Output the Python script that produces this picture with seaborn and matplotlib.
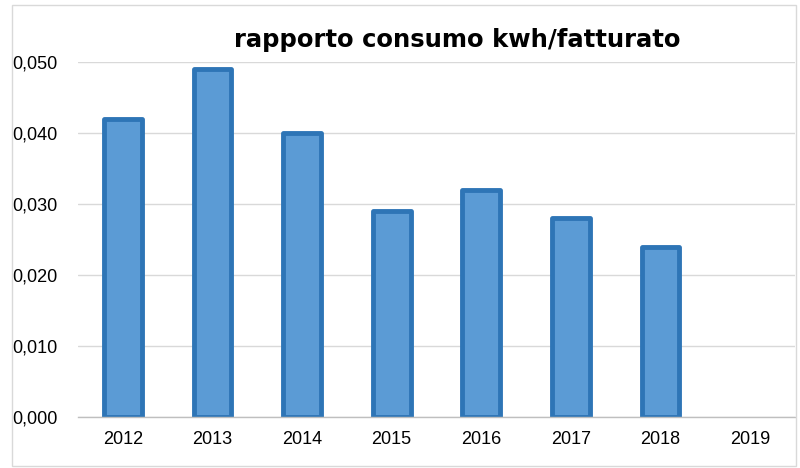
import matplotlib
matplotlib.use("Agg")
import matplotlib.pyplot as plt
import seaborn as sns
import numpy as np
import pandas as pd
from matplotlib.patches import Rectangle
from matplotlib.ticker import FuncFormatter

years = ["2012", "2013", "2014", "2015", "2016", "2017", "2018", "2019"]
values = [0.042, 0.049, 0.040, 0.029, 0.032, 0.028, 0.024, np.nan]
title = "rapporto consumo kwh/fatturato"
yticks = [0.0, 0.01, 0.02, 0.03, 0.04, 0.05]

sns.set_style("white")
plt.rcParams["font.family"] = ["Liberation Sans", "DejaVu Sans"]

df = pd.DataFrame({"anno": years, "valore": values})

fig = plt.figure(figsize=(8, 4.68), dpi=100)
ax = fig.add_axes([78 / 800, 51 / 468, 717 / 800, 355 / 468])

sns.barplot(data=df, x="anno", y="valore", order=years, color="#5B9BD5",
            saturation=1, edgecolor="#2E75B6", linewidth=3.5, width=0.42, ax=ax)
for p in ax.patches:
    p.set_joinstyle("round")

ax.set_xlim(-0.5, len(years) - 0.5)
ax.set_ylim(0, 0.05)
ax.set_yticks(yticks)
ax.yaxis.set_major_formatter(FuncFormatter(lambda v, _: f"{v:.3f}".replace(".", ",")))
ax.grid(axis="y", color="#d9d9d9", linewidth=1)
ax.set_axisbelow(True)
for s in ["left", "right", "top"]:
    ax.spines[s].set_visible(False)
ax.spines["bottom"].set_color("#bfbfbf")
ax.spines["bottom"].set_linewidth(1)
ax.tick_params(axis="both", length=0, labelsize=13, colors="#000000", pad=10)
ax.tick_params(axis="y", pad=15)
ax.set_xlabel("")
ax.set_ylabel("")

fig.text(457 / 800, 1 - 40 / 468, title, ha="center", va="center",
         fontsize=17.5, fontweight="bold", color="#000000", family=["DejaVu Sans"])

fig.patches.append(Rectangle((12 / 800, 2 / 468), 784 / 800, 461 / 468,
                             transform=fig.transFigure, fill=False,
                             edgecolor="#d9d9d9", linewidth=1))

fig.savefig("out.png", dpi=100)
